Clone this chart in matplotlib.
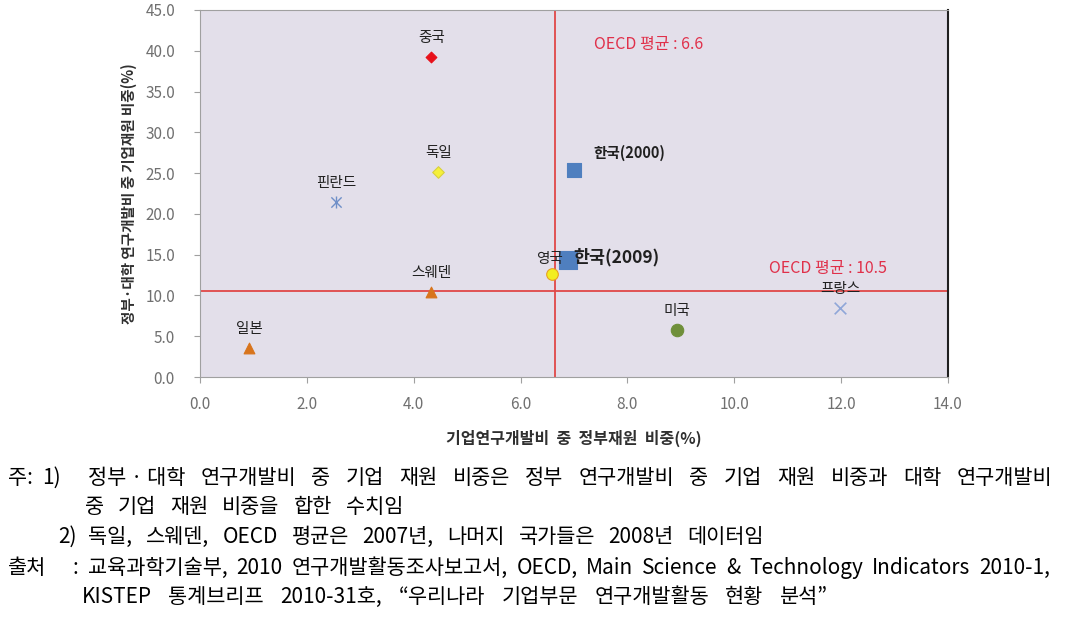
import matplotlib
matplotlib.use("Agg")
import matplotlib.pyplot as plt

plt.rcParams['font.family'] = ['Noto Sans CJK KR', 'DejaVu Sans']

# Data
countries = ['중국', '독일', '한국(2000)', '핀란드', '영국', '한국(2009)', '스웨덴', '일본', '미국', '프랑스']
x_vals = [4.33, 4.46, 7.00, 2.55, 6.59, 6.89, 4.33, 0.92, 8.93, 11.98]
y_vals = [39.2, 25.1, 25.4, 21.4, 12.6, 14.3, 10.4, 3.55, 5.76, 8.46]
oecd_x = 6.65
oecd_y = 10.5
oecd_x_label = 'OECD 평균 : 6.6'
oecd_y_label = 'OECD 평균 : 10.5'
x_ticks = [0, 2, 4, 6, 8, 10, 12, 14]
y_ticks = [0, 5, 10, 15, 20, 25, 30, 35, 40, 45]
xlabel = '기업연구개발비  중  정부재원  비중(%)'
ylabel = '정부·대학 연구개발비 중 기업재원 비중(%)'
note_prefixes = [['주:', '1)'], [], ['2)'], ['출처', ':'], []]
note_bodies = [
    ['정부 · 대학', '연구개발비', '중', '기업', '재원', '비중은', '정부', '연구개발비', '중', '기업', '재원',
     '비중과', '대학', '연구개발비'],
    ['중', '기업', '재원', '비중을', '합한', '수치임'],
    ['독일,', '스웨덴,', 'OECD', '평균은', '2007년,', '나머지', '국가들은', '2008년', '데이터임'],
    ['교육과학기술부,', '2010', '연구개발활동조사보고서,', 'OECD,', 'Main', 'Science', '&', 'Technology',
     'Indicators', '2010-1,'],
    ['KISTEP', '통계브리프', '2010-31호,', '“우리나라', '기업부문', '연구개발활동', '현황', '분석”'],
]

styles = {
    '중국': dict(marker='D', color='#e8101a', ec='#e8101a', s=30),
    '독일': dict(marker='D', color='#f5f03a', ec='#d8d040', s=35),
    '한국(2000)': dict(marker='s', color='#4f7fbf', ec='#4f7fbf', s=110),
    '핀란드': dict(marker='star', color='#6f8fc8', ec='#6f8fc8', s=55),
    '영국': dict(marker='o', color='#f2ee20', ec='#e8a020', s=70),
    '한국(2009)': dict(marker='s', color='#4f7fbf', ec='#4f7fbf', s=150),
    '스웨덴': dict(marker='^', color='#d8741c', ec='#d8741c', s=60),
    '일본': dict(marker='^', color='#d8741c', ec='#d8741c', s=60),
    '미국': dict(marker='o', color='#6f8f3a', ec='#6f8f3a', s=80),
    '프랑스': dict(marker='x', color='#8fa6d8', ec='#8fa6d8', s=70),
}
label_pos = {
    '중국': (0, 14, 'center', False, 10.5),
    '독일': (0, 14, 'center', False, 10.5),
    '한국(2000)': (14, 12, 'left', True, 10.5),
    '핀란드': (0, 14, 'center', False, 10.5),
    '영국': (-2, 11, 'center', False, 10.5),
    '한국(2009)': (4, 2, 'left', True, 12.5),
    '스웨덴': (0, 14, 'center', False, 10.5),
    '일본': (0, 14, 'center', False, 10.5),
    '미국': (0, 14, 'center', False, 10.5),
    '프랑스': (0, 14, 'center', False, 10.5),
}

W, H = 1072, 633
fig = plt.figure(figsize=(W / 100, H / 100), dpi=100)
ax = fig.add_axes([200 / W, 1 - 377 / H, 748 / W, 367 / H])
ax.set_facecolor('#e3dfea')
ax.set_xlim(0, 14)
ax.set_ylim(0, 45)

ax.axvline(oecd_x, color='#e04848', lw=1.3, zorder=1)
ax.axhline(oecd_y, color='#e04848', lw=1.3, zorder=1)

for c, x, y in zip(countries, x_vals, y_vals):
    st = styles[c]
    if st['marker'] == 'star':
        ax.scatter(x, y, marker='x', color=st['color'], s=st['s'], linewidths=1.0, zorder=3)
        ax.scatter(x, y, marker='|', color=st['color'], s=st['s'] * 1.2, linewidths=1.0, zorder=3)
    elif st['marker'] == 'x':
        ax.scatter(x, y, marker='x', color=st['color'], s=st['s'], linewidths=1.2, zorder=3)
    else:
        ax.scatter(x, y, marker=st['marker'], color=st['color'], edgecolors=st['ec'], s=st['s'],
                   linewidths=0.8, zorder=3)
    dx, dy, ha, bold, fs = label_pos[c]
    ax.annotate(c, (x, y), xytext=(dx, dy), textcoords='offset points', ha=ha, va='center',
                fontsize=fs, color='#202020', fontweight='bold' if bold else 'normal', zorder=4)

ax.text(594 / W, 1 - 44 / H, oecd_x_label, transform=fig.transFigure, color='#e0304a',
        fontsize=11.5, ha='left', va='center')
ax.text(769 / W, 1 - 268 / H, oecd_y_label, transform=fig.transFigure, color='#e0304a',
        fontsize=11.5, ha='left', va='center')

ax.set_xticks(x_ticks)
ax.set_xticklabels([f'{v:.1f}' for v in x_ticks])
ax.set_yticks(y_ticks)
ax.set_yticklabels([f'{v:.1f}' for v in y_ticks])
ax.tick_params(axis='both', colors='#a0a0a0', labelcolor='#707070', labelsize=11, length=4, direction='out')
ax.tick_params(axis='x', pad=10)
ax.tick_params(axis='y', pad=14)
for side in ['left', 'bottom', 'top']:
    ax.spines[side].set_color('#a0a0a0')
ax.spines['right'].set_color('#202020')
ax.spines['right'].set_linewidth(1.5)

ax.set_xlabel(xlabel, fontsize=11.5, fontweight='bold', color='#303030', labelpad=12)
ax.set_ylabel(ylabel, fontsize=10.5, fontweight='bold', color='#303030', labelpad=6)

# Notes, justified word by word
renderer = fig.canvas.get_renderer()
note_fs = 15
ys = [478, 507, 537, 568, 597]
prefix_x = [[8, 42], [], [58], [8, 72], []]
body_x = [(88, 1052), (85, 403), (88, 764), (88, 1050), (82, 828)]


def place_words(words, x0, x1, y):
    texts = [fig.text(0, 1 - y / H, w, fontsize=note_fs, ha='left', va='center', color='#000000')
             for w in words]
    widths = [t.get_window_extent(renderer).width for t in texts]
    gap = (x1 - x0 - sum(widths)) / max(len(words) - 1, 1)
    x = x0
    for t, w in zip(texts, widths):
        t.set_x(x / W)
        x += w + gap


for i in range(5):
    yy = ys[i]
    for p, px in zip(note_prefixes[i], prefix_x[i]):
        fig.text(px / W, 1 - yy / H, p, fontsize=note_fs, ha='left', va='center', color='#000000')
    place_words(note_bodies[i], body_x[i][0], body_x[i][1], yy)

fig.savefig('out.png', dpi=100, facecolor='white')
